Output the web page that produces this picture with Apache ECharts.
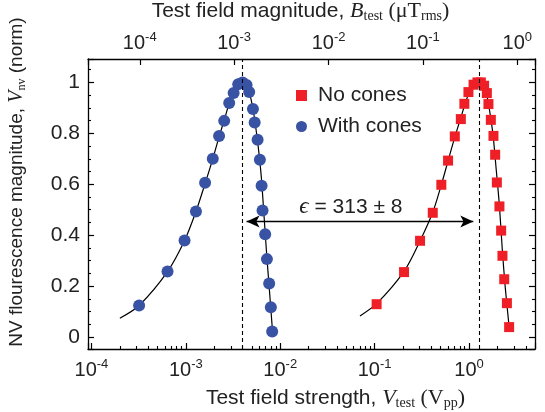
<!DOCTYPE html>
<html style="height: 100%">
<head>
<meta charset="utf-8">
</head>
<body style="height: 100%; margin: 0">
<div id="container" style="width: 545px; height: 412px"></div>
<script type="text/javascript" src="https://cdn.jsdelivr.net/npm/echarts@6/dist/echarts.min.js"></script>
<script type="text/javascript">
var dom = document.getElementById("container");
var myChart = echarts.init(dom);

// measured points, V_test (Vpp) and normalized NV signal
var noConesV = [0.105, 0.205, 0.303, 0.413, 0.509, 0.600, 0.707, 0.819, 0.893, 0.986, 1.117, 1.228, 1.334, 1.445, 1.545, 1.606, 1.703, 1.815, 1.892, 1.972, 2.10, 2.19, 2.26, 2.36, 2.52, 2.66];
var noConesY = [0.129, 0.255, 0.378, 0.488, 0.598, 0.693, 0.788, 0.856, 0.916, 0.962, 0.991, 1.0, 1.0, 0.987, 0.958, 0.915, 0.853, 0.790, 0.716, 0.607, 0.513, 0.418, 0.319, 0.227, 0.133, 0.039];

var withConesV = [3.2e-4, 6.4e-4, 9.7e-4, 1.28e-3, 1.60e-3, 1.93e-3, 2.25e-3, 2.55e-3, 2.88e-3, 3.21e-3, 3.59e-3, 3.99e-3, 4.40e-3, 4.69e-3, 5.14e-3, 5.36e-3, 5.76e-3, 6.09e-3, 6.35e-3, 6.50e-3, 6.93e-3, 7.23e-3, 7.64e-3, 7.96e-3, 8.22e-3];
var withConesY = [0.124, 0.257, 0.379, 0.493, 0.606, 0.700, 0.790, 0.849, 0.919, 0.958, 0.993, 1.0, 0.990, 0.962, 0.896, 0.843, 0.775, 0.696, 0.594, 0.497, 0.404, 0.306, 0.210, 0.117, 0.022];

// fit curves
var blueFitV = [2.0e-4, 3.2e-4, 6.4e-4, 9.7e-4, 1.28e-3, 1.6e-3, 1.93e-3, 2.25e-3, 2.6e-3, 2.95e-3, 3.35e-3, 3.7e-3, 4.0e-3, 4.35e-3, 4.7e-3, 5.1e-3, 5.5e-3, 5.9e-3, 6.3e-3, 6.7e-3, 7.2e-3, 7.7e-3, 8.3e-3];
var blueFitY = [0.074, 0.124, 0.257, 0.379, 0.493, 0.603, 0.700, 0.786, 0.862, 0.930, 0.975, 0.996, 1.0, 0.990, 0.960, 0.905, 0.825, 0.735, 0.630, 0.490, 0.320, 0.180, 0.020];

var redFitV = [0.070, 0.105, 0.205, 0.303, 0.413, 0.509, 0.60, 0.707, 0.82, 0.93, 1.05, 1.17, 1.28, 1.40, 1.52, 1.65, 1.80, 1.95, 2.10, 2.25, 2.42, 2.66];
var redFitY = [0.083, 0.131, 0.258, 0.378, 0.490, 0.598, 0.692, 0.785, 0.862, 0.928, 0.975, 0.997, 1.0, 0.990, 0.960, 0.890, 0.790, 0.650, 0.515, 0.345, 0.195, 0.040];

var peakV = [4.0e-3, 1.28];
var arrowY = 0.454;
var arrowEnds = [4.4e-3, 1.11];

var xRange = [9.2e-5, 5];
var bPerV = 0.3076; // top axis B_test = bPerV * V_test
var yRange = [-0.047, 1.092];

function zip(xs, ys) {
    var res = [];
    for (var i = 0; i < xs.length; i++) res.push([xs[i], ys[i]]);
    return res;
}

function powLabel(v) {
    var l = Math.log10(v);
    var e = Math.round(l);
    if (Math.abs(l - e) > 0.01) return '';
    return '10{sup|' + e + '}';
}

var sans = 'Liberation Sans';
var serif = 'Liberation Serif';
var ink = '#222';

function tickLabel(margin) {
    return {
        color: ink,
        fontFamily: sans,
        fontSize: 20,
        lineHeight: 24,
        margin: margin,
        formatter: powLabel,
        rich: {
            sup: { fontFamily: sans, fontSize: 13, lineHeight: 13, verticalAlign: 'top', color: ink }
        }
    };
}

var nameRich = {
    a: { fontFamily: sans, fontSize: 21, lineHeight: 24, color: ink },
    i: { fontFamily: serif, fontStyle: 'italic', fontSize: 22, lineHeight: 24, color: ink },
    r: { fontFamily: serif, fontSize: 22, lineHeight: 24, color: ink },
    sub: { fontFamily: serif, fontSize: 14, lineHeight: 14, verticalAlign: 'bottom', color: ink }
};
var yNameRich = {
    a: { fontFamily: sans, fontSize: 19, lineHeight: 22, color: ink },
    i: { fontFamily: serif, fontStyle: 'italic', fontSize: 20, lineHeight: 22, color: ink },
    sub: { fontFamily: serif, fontSize: 12, lineHeight: 12, verticalAlign: 'bottom', color: ink }
};

var axisLine = { show: true, onZero: false, lineStyle: { color: '#000', width: 1.3 } };
var tick = { inside: true, length: 6, lineStyle: { color: '#000', width: 1.2 } };
var minor = { length: 3, lineStyle: { color: '#000', width: 1.1 } };
var dashed = { color: '#000', width: 1.1, type: [4, 3] };

option = {
    animation: false,
    grid: { left: 88, right: 10, top: 59, bottom: 63, containLabel: false, outerBoundsMode: 'none' },
    legend: {
        data: ['No cones', 'With cones'],
        orient: 'vertical',
        left: 296,
        top: 85,
        padding: 0,
        itemWidth: 11,
        itemHeight: 11,
        itemGap: 10,
        textStyle: { fontFamily: sans, fontSize: 21, color: ink, padding: [0, 0, 0, 6] }
    },
    xAxis: [
        {
            type: 'log',
            logBase: 10,
            position: 'bottom',
            min: xRange[0],
            max: xRange[1],
            axisLine: axisLine,
            axisTick: tick,
            minorTick: Object.assign({ show: true, splitNumber: 9 }, minor),
            axisLabel: tickLabel(9),
            splitLine: { show: false },
            name: '{a|Test field strength, }{i|V}{sub|test}{r| (V}{sub|pp}{r|)}',
            nameLocation: 'middle',
            nameGap: 34,
            nameTextStyle: { rich: nameRich, padding: [0, 0, 0, 48] }
        },
        {
            type: 'log',
            logBase: 10,
            position: 'top',
            min: xRange[0] * bPerV,
            max: xRange[1] * bPerV,
            axisLine: axisLine,
            axisTick: tick,
            axisLabel: tickLabel(4),
            splitLine: { show: false },
            name: '{a|Test field magnitude, }{i|B}{sub|test}{r| (μT}{sub|rms}{r|)}',
            nameLocation: 'middle',
            nameGap: 36,
            nameTextStyle: { rich: nameRich, padding: [0, 22, 0, 0] }
        }
    ],
    yAxis: [
        {
            type: 'value',
            position: 'left',
            min: yRange[0],
            max: yRange[1],
            axisLine: axisLine,
            axisTick: tick,
            minorTick: Object.assign({ show: true, splitNumber: 4 }, minor),
            axisLabel: {
                color: ink, fontFamily: sans, fontSize: 21, margin: 8,
                formatter: function (v) {
                    var k = Math.round(v / 0.2);
                    if (Math.abs(v - k * 0.2) > 1e-6) return '';
                    return String(Math.round(k * 2) / 10);
                }
            },
            splitLine: { show: false },
            name: '{a|NV flourescence magnitude, }{i|V}{sub|nv}{a| (norm)}',
            nameLocation: 'middle',
            nameGap: 60,
            nameRotate: 90,
            nameTextStyle: { rich: yNameRich, padding: [0, 0, 0, 44] }
        },
        {
            type: 'value',
            position: 'right',
            min: yRange[0],
            max: yRange[1],
            axisLine: axisLine,
            axisTick: tick,
            minorTick: Object.assign({ show: true, splitNumber: 4 }, minor),
            axisLabel: { show: false },
            splitLine: { show: false }
        }
    ],
    series: [
        {
            name: 'fit with cones',
            type: 'line',
            data: zip(blueFitV, blueFitY),
            smooth: 0.3,
            symbol: 'none',
            silent: true,
            lineStyle: { color: '#000', width: 1.2 },
            z: 2,
            markLine: {
                silent: true,
                symbol: ['none', 'none'],
                lineStyle: dashed,
                label: { show: false },
                data: [[{ coord: [peakV[0], yRange[0]] }, { coord: [peakV[0], yRange[1]] }]]
            }
        },
        {
            name: 'fit no cones',
            type: 'line',
            data: zip(redFitV, redFitY),
            smooth: 0.3,
            symbol: 'none',
            silent: true,
            lineStyle: { color: '#000', width: 1.2 },
            z: 2,
            markLine: {
                silent: true,
                symbol: ['none', 'none'],
                lineStyle: dashed,
                label: { show: false },
                data: [[{ coord: [peakV[1], yRange[0]] }, { coord: [peakV[1], yRange[1]] }]]
            }
        },
        {
            name: 'No cones',
            type: 'scatter',
            data: zip(noConesV, noConesY),
            symbol: 'rect',
            symbolSize: 10,
            itemStyle: { color: '#ee1f26', opacity: 1 },
            z: 4,
            markLine: {
                silent: true,
                symbol: ['arrow', 'arrow'],
                symbolSize: [9, 13],
                lineStyle: { color: '#000', width: 1.3, type: 'solid' },
                label: {
                    show: true,
                    position: 'insideMiddleTop',
                    distance: 3,
                    offset: [-9, 0],
                    formatter: '{e|ϵ}{t| = 313 ± 8}',
                    rich: {
                        e: { fontFamily: serif, fontStyle: 'italic', fontSize: 23, color: ink },
                        t: { fontFamily: sans, fontSize: 21, color: ink }
                    }
                },
                data: [[{ coord: [arrowEnds[0], arrowY] }, { coord: [arrowEnds[1], arrowY] }]]
            }
        },
        {
            name: 'With cones',
            type: 'scatter',
            data: zip(withConesV, withConesY),
            symbol: 'circle',
            symbolSize: 12,
            itemStyle: { color: '#3953a4', opacity: 1 },
            z: 4
        }
    ]
};

myChart.setOption(option);
</script>
</body>
</html>
